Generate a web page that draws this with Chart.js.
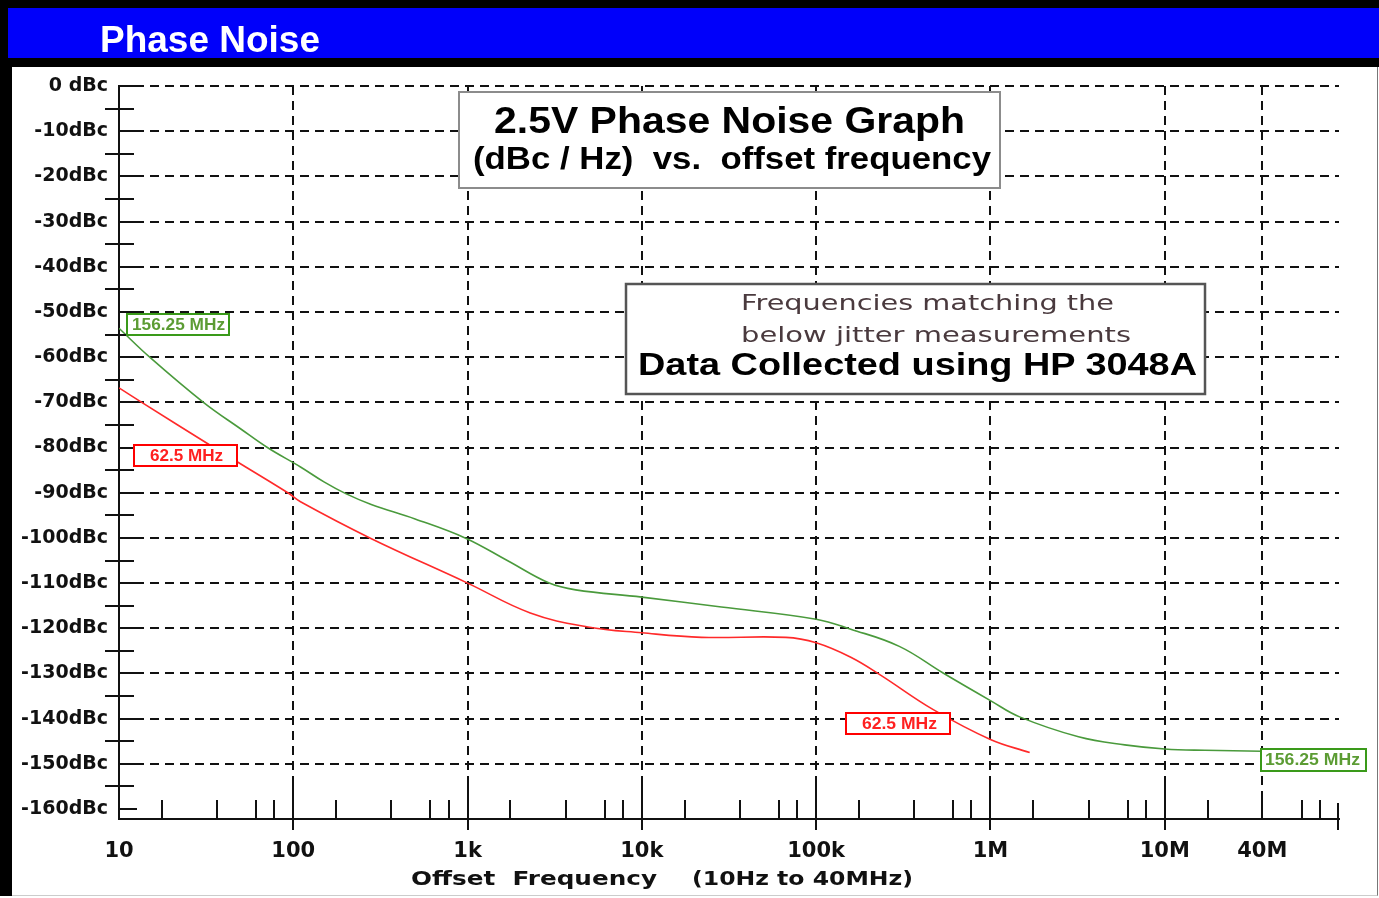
<!DOCTYPE html>
<html><head><meta charset="utf-8">
<script src="https://cdn.jsdelivr.net/npm/chart.js@4.4.1/dist/chart.umd.min.js"></script>
<style>
html,body{margin:0;padding:0;background:#fff;}
#wrap{position:relative;width:1379px;height:898px;overflow:hidden;background:#fff;}
.abs{position:absolute;}
svg text{white-space:pre;}
</style></head><body>
<div id="wrap">
 <div class="abs" style="left:0;top:0;width:1379px;height:67px;background:#000"></div>
 <div class="abs" style="left:0;top:67px;width:12px;height:829px;background:#000"></div>
 <div class="abs" style="left:12px;top:67px;width:1365px;height:828px;background:#fff;border-right:1px solid #777;border-bottom:1px solid #ccc"></div>
 <canvas id="c" width="1379" height="898" class="abs" style="left:0;top:0"></canvas>
 <svg class="abs" style="left:0;top:0;pointer-events:none" width="1379" height="898" xmlns="http://www.w3.org/2000/svg">
   <rect x="8" y="8" width="1371" height="50" fill="#0000fa"/>
   <text x="100" y="52" font-family="Liberation Sans, Arial" font-weight="bold" font-size="36" fill="#fff" textLength="220" lengthAdjust="spacingAndGlyphs">Phase Noise</text>

   <rect x="459" y="92" width="541" height="96" fill="#fff" stroke="#8c8c8c" stroke-width="2"/>
   <text x="494" y="133" font-family="Liberation Sans, Arial" font-weight="bold" font-size="37" fill="#000" textLength="471" lengthAdjust="spacingAndGlyphs">2.5V Phase Noise Graph</text>
   <text x="473" y="169" xml:space="preserve" font-family="Liberation Sans, Arial" font-weight="bold" font-size="32" fill="#000" textLength="518" lengthAdjust="spacingAndGlyphs">(dBc / Hz)  vs.  offset frequency</text>

   <rect x="626" y="284" width="579" height="110" fill="#fff" stroke="#555" stroke-width="2.5"/>
   <text x="741" y="310" font-family="DejaVu Sans" font-size="20.5" fill="#4a3a3e" textLength="373" lengthAdjust="spacingAndGlyphs">Frequencies matching the</text>
   <text x="741" y="342" font-family="DejaVu Sans" font-size="20.5" fill="#4a3a3e" textLength="390" lengthAdjust="spacingAndGlyphs">below jitter measurements</text>
   <text x="638" y="375" font-family="Liberation Sans, Arial" font-weight="bold" font-size="32" fill="#000" textLength="559" lengthAdjust="spacingAndGlyphs">Data Collected using HP 3048A</text>

   <rect x="127" y="314" width="102" height="21" fill="#fff" stroke="#3a9a1a" stroke-width="2"/>
   <text x="132" y="330" font-family="Liberation Sans, Arial" font-weight="bold" font-size="16" fill="#5c9c34" textLength="93" lengthAdjust="spacingAndGlyphs">156.25 MHz</text>
   <rect x="134" y="445" width="103" height="21" fill="#fff" stroke="#ff0000" stroke-width="2"/>
   <text x="150" y="461" font-family="Liberation Sans, Arial" font-weight="bold" font-size="16" fill="#ff2020" textLength="73" lengthAdjust="spacingAndGlyphs">62.5 MHz</text>
   <rect x="846" y="713" width="104" height="21" fill="#fff" stroke="#ff0000" stroke-width="2"/>
   <text x="862" y="729" font-family="Liberation Sans, Arial" font-weight="bold" font-size="16" fill="#ff2020" textLength="75" lengthAdjust="spacingAndGlyphs">62.5 MHz</text>
   <rect x="1261" y="749" width="105" height="22" fill="#fff" stroke="#3a9a1a" stroke-width="2"/>
   <text x="1265" y="765" font-family="Liberation Sans, Arial" font-weight="bold" font-size="16" fill="#5c9c34" textLength="95" lengthAdjust="spacingAndGlyphs">156.25 MHz</text>

   <text x="411" y="885" xml:space="preserve" font-family="DejaVu Sans" font-weight="bold" font-size="20" fill="#111" textLength="246" lengthAdjust="spacingAndGlyphs">Offset  Frequency</text>
   <text x="692" y="885" font-family="DejaVu Sans" font-weight="bold" font-size="20" fill="#111" textLength="221" lengthAdjust="spacingAndGlyphs">(10Hz to 40MHz)</text>
 </svg>
</div>
<script>
// ---- data ----
const greenFreq = [10, 15, 30.5, 50, 71, 110, 150, 200, 280, 500, 968, 1690, 2940, 4170, 10000, 28600, 100000, 158000, 300000, 535000, 1e6, 1.47e6, 3.2e6, 5.9e6, 1e7, 1.7e7, 3.6e7];
const greenDb   = [-53.6, -60, -70, -75.9, -80, -84.3, -87.6, -90.2, -92.6, -95.8, -100, -105, -110, -111.5, -113.1, -115.3, -118, -120.2, -124, -129.9, -136, -139.6, -144, -145.8, -146.7, -147, -147.2];
const redFreq   = [10, 13.5, 35, 93, 110, 275, 1000, 2290, 4900, 10000, 22000, 67000, 100000, 158000, 233000, 470000, 1e6, 1.68e6];
const redDb     = [-66.8, -70, -80, -90, -92, -100, -110, -116.6, -119.7, -121, -122, -122, -123.2, -126.4, -130.3, -138, -144.6, -147.5];

const xTickValues = [10, 100, 1e3, 1e4, 1e5, 1e6, 1e7, 3.63e7];
const xTickLabels = ['10', '100', '1k', '10k', '100k', '1M', '10M', '40M'];
const xDecades = [10, 100, 1e3, 1e4, 1e5, 1e6, 1e7];
const xMinorFactors = [1.76, 3.66, 6.12, 7.78];
const yTickValues = [0, -10, -20, -30, -40, -50, -60, -70, -80, -90, -100, -110, -120, -130, -140, -150, -160];
const yTickLabels = ['0 dBc', '-10dBc', '-20dBc', '-30dBc', '-40dBc', '-50dBc', '-60dBc', '-70dBc', '-80dBc', '-90dBc', '-100dBc', '-110dBc', '-120dBc', '-130dBc', '-140dBc', '-150dBc', '-160dBc'];
const yMinorValues = [-5, -15, -25, -35, -45, -55, -65, -75, -85, -95, -105, -115, -125, -135, -145, -155];

const toPts = (xs, ys) => xs.map((v, i) => ({x: v, y: ys[i]}));

const tickPlugin = {
  id: 'axisTicks',
  afterDraw(chart) {
    const {ctx, chartArea: a, scales: {x, y}} = chart;
    ctx.save();
    ctx.strokeStyle = '#111';
    ctx.lineWidth = 2;
    const line = (x1, y1, x2, y2) => { ctx.beginPath(); ctx.moveTo(x1, y1); ctx.lineTo(x2, y2); ctx.stroke(); };
    xDecades.forEach((d, di) => {
      xMinorFactors.forEach(f => {
        const v = d * f;
        if (di === xDecades.length - 1 && f === 3.66) return;
        const px = Math.round(x.getPixelForValue(v));
        line(px, a.bottom - 19, px, a.bottom);
      });
      if (di > 0) { const px = Math.round(x.getPixelForValue(d)); line(px, a.bottom - 37, px, a.bottom + 11); }
    });
    let px = Math.round(x.getPixelForValue(3.63e7));
    line(px, a.bottom - 22, px, a.bottom);
    px = Math.round(x.getPixelForValue(1e8)) - 1;
    line(px, a.bottom - 16, px, a.bottom + 11);
    yMinorValues.forEach(v => { const py = Math.round(y.getPixelForValue(v)); line(a.left - 14, py, a.left + 15, py); });
    yTickValues.forEach(v => { const py = Math.round(y.getPixelForValue(v)); line(a.left, py, a.left + 18, py); });
    ctx.restore();
  }
};

new Chart(document.getElementById('c'), {
  type: 'line',
  data: {
    datasets: [
      {label: '156.25 MHz', data: toPts(greenFreq, greenDb), borderColor: '#4a9a3c', borderWidth: 1.6, pointRadius: 0, tension: 0.4, fill: false},
      {label: '62.5 MHz', data: toPts(redFreq, redDb), borderColor: '#ff2a2a', borderWidth: 1.6, pointRadius: 0, tension: 0.4, fill: false}
    ]
  },
  options: {
    responsive: false,
    animation: false,
    devicePixelRatio: 1,
    layout: {padding: {left: 0, top: 86, right: 40, bottom: 0}},
    plugins: {legend: {display: false}, tooltip: {enabled: false}},
    scales: {
      x: {
        type: 'logarithmic', min: 10, max: 1e8, position: 'bottom',
        afterBuildTicks: s => { s.ticks = xTickValues.map(v => ({value: v})); },
        afterFit: s => { s.height = 79; },
        ticks: {
          autoSkip: false, maxRotation: 0, padding: 20, color: '#111',
          font: {family: 'DejaVu Sans', weight: 'bold', size: 21},
          callback: (v) => xTickLabels[xTickValues.indexOf(v)]
        },
        grid: {drawTicks: false, lineWidth: 2, color: c => (c.tick && c.tick.value === 10) ? 'rgba(0,0,0,0)' : '#111'},
        border: {display: true, color: '#111', width: 2, dash: [9, 6]}
      },
      y: {
        type: 'linear', min: -162.2, max: 0,
        afterBuildTicks: s => { s.ticks = yTickValues.map(v => ({value: v})); },
        afterFit: s => { s.width = 119; },
        ticks: {
          padding: 11, color: '#111',
          font: {family: 'DejaVu Sans', weight: 'bold', size: 19},
          callback: (v) => yTickLabels[yTickValues.indexOf(v)]
        },
        grid: {drawTicks: false, lineWidth: 2, color: c => (c.tick && c.tick.value === -160) ? 'rgba(0,0,0,0)' : '#111'},
        border: {display: true, color: '#111', width: 2, dash: [9, 6]}
      }
    }
  },
  plugins: [tickPlugin]
});
</script>
</body></html>
